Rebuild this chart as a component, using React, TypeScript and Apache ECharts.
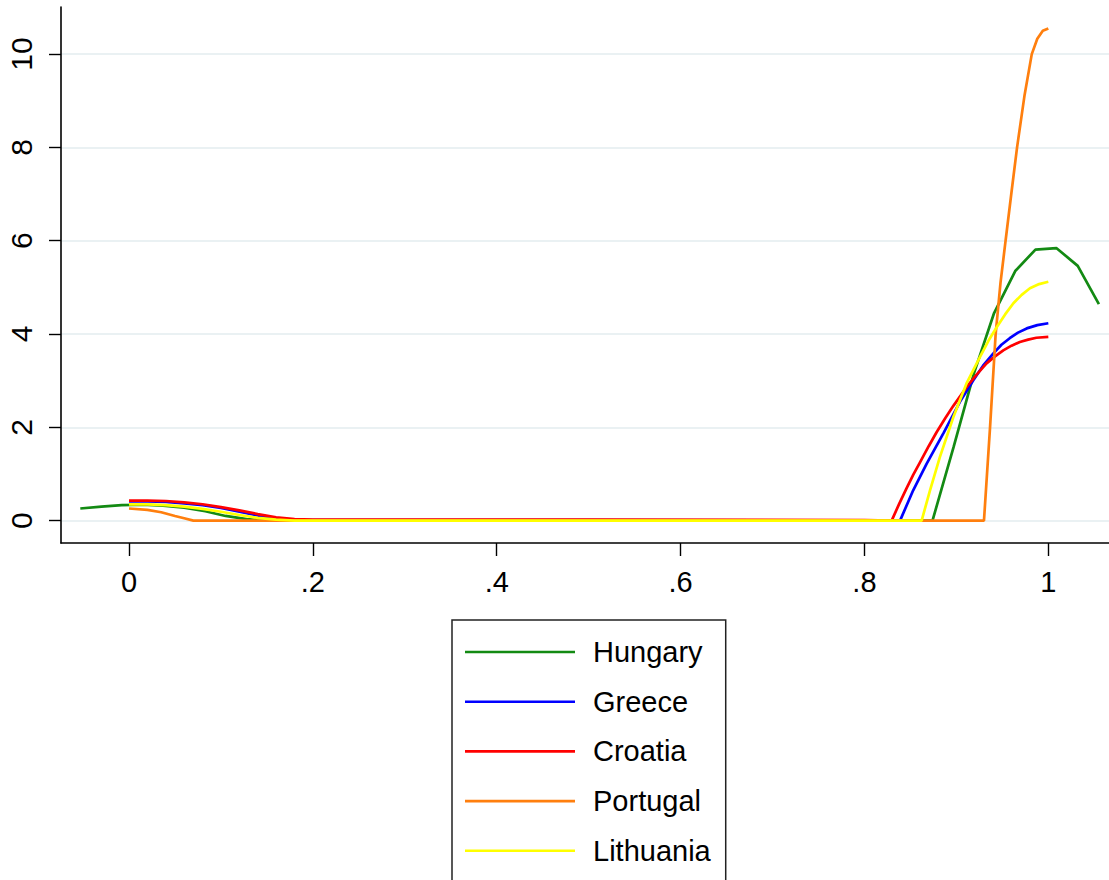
import React, { useEffect, useRef } from "react";
import * as echarts from "echarts";

const seriesNames = ["Hungary", "Greece", "Croatia", "Portugal", "Lithuania"];
const seriesColors = ["#138a13", "#0000ff", "#ff0000", "#ff7f0e", "#ffff00"];

const hungaryX = [-0.053, -0.030, -0.008, 0.015, 0.037, 0.060, 0.083, 0.105, 0.128, 0.150, 0.173, 0.5, 0.851, 0.874, 0.897, 0.919, 0.941, 0.964, 0.986, 1.009, 1.032, 1.055];
const hungaryY = [0.26, 0.30, 0.33, 0.34, 0.32, 0.28, 0.20, 0.10, 0.03, 0.0, 0.0, 0.0, 0.0, 0.0, 1.58, 3.15, 4.45, 5.35, 5.81, 5.84, 5.46, 4.64];

const greeceX = [0, 0.02, 0.04, 0.06, 0.08, 0.10, 0.12, 0.14, 0.16, 0.18, 0.5, 0.8387, 0.853, 0.8677, 0.8858, 0.904, 0.9184, 0.929, 0.94, 0.949, 0.958, 0.967, 0.9765, 0.988, 1.0];
const greeceY = [0.41, 0.41, 0.40, 0.37, 0.33, 0.27, 0.19, 0.11, 0.04, 0.01, 0.01, 0.0, 0.65, 1.22, 1.87, 2.55, 3.01, 3.32, 3.58, 3.77, 3.91, 4.03, 4.12, 4.19, 4.23];

const croatiaX = [0, 0.02, 0.04, 0.06, 0.08, 0.10, 0.12, 0.14, 0.16, 0.18, 0.2, 0.5, 0.8, 0.8296, 0.838, 0.846, 0.853, 0.8604, 0.87, 0.8786, 0.888, 0.8967, 0.911, 0.922, 0.9328, 0.942, 0.951, 0.96, 0.969, 0.978, 0.987, 1.0];
const croatiaY = [0.43, 0.43, 0.42, 0.39, 0.35, 0.29, 0.22, 0.14, 0.07, 0.03, 0.02, 0.02, 0.01, 0.0, 0.37, 0.70, 0.98, 1.25, 1.6, 1.9, 2.2, 2.46, 2.86, 3.13, 3.37, 3.52, 3.65, 3.75, 3.83, 3.88, 3.92, 3.94];

const portugalX = [0, 0.02, 0.035, 0.05, 0.06, 0.07, 0.5, 0.930, 0.9366, 0.9427, 0.948, 0.9535, 0.960, 0.966, 0.974, 0.982, 0.988, 0.994, 1.0];
const portugalY = [0.26, 0.23, 0.18, 0.10, 0.05, 0.0, 0.0, 0.0, 2.0, 4.0, 5.1, 6.0, 7.05, 8.0, 9.1, 10.0, 10.33, 10.5, 10.55];

const lithuaniaX = [0, 0.02, 0.04, 0.06, 0.08, 0.10, 0.12, 0.14, 0.16, 0.18, 0.5, 0.8622, 0.8713, 0.882, 0.8967, 0.911, 0.9257, 0.935, 0.944, 0.953, 0.962, 0.971, 0.980, 0.990, 1.0];
const lithuaniaY = [0.35, 0.35, 0.33, 0.30, 0.25, 0.19, 0.12, 0.06, 0.02, 0.0, 0.0, 0.0, 0.65, 1.36, 2.22, 2.94, 3.51, 3.86, 4.15, 4.42, 4.66, 4.84, 4.98, 5.07, 5.12];

const seriesX = [hungaryX, greeceX, croatiaX, portugalX, lithuaniaX];
const seriesY = [hungaryY, greeceY, croatiaY, portugalY, lithuaniaY];

const xTickValues = [0, 0.2, 0.4, 0.6, 0.8, 1];
const xTickLabels = ["0", ".2", ".4", ".6", ".8", "1"];
const yTickValues = [0, 2, 4, 6, 8, 10];
const yTickLabels = ["0", "2", "4", "6", "8", "10"];

const FONT = "'Liberation Sans', Arial, Helvetica, sans-serif";

export default function App() {
  const ref = useRef<HTMLDivElement>(null);
  useEffect(() => {
    document.body.style.margin = "0";
    if (!ref.current) return;
    const chart = echarts.init(ref.current, null, { renderer: "svg" });
    const series = seriesNames.map((name, i) => ({
      name,
      type: "line",
      symbol: "none",
      showSymbol: false,
      data: seriesX[i].map((x, j) => [x, seriesY[i][j]]),
      lineStyle: { color: seriesColors[i], width: 2.7 },
      itemStyle: { color: seriesColors[i] },
    }));
    chart.setOption({
      animation: false,
      backgroundColor: "#ffffff",
      grid: { left: 61, right: 0, top: 7, bottom: 337, containLabel: false },
      xAxis: {
        type: "value",
        min: -0.074,
        max: 1.066,
        axisLine: { show: true, onZero: false, lineStyle: { color: "#000", width: 1.6 } },
        axisTick: { show: true, length: 13, lineStyle: { color: "#000", width: 1.4 }, customValues: xTickValues },
        axisLabel: {
          customValues: xTickValues,
          fontSize: 29,
          fontFamily: FONT,
          color: "#000",
          margin: 24,
          formatter: (v: number) => {
            const idx = xTickValues.findIndex((t) => Math.abs(t - v) < 1e-9);
            return idx >= 0 ? xTickLabels[idx] : "";
          },
        },
        splitLine: { show: false },
      },
      yAxis: {
        type: "value",
        min: -0.48,
        max: 11.01,
        axisLine: { show: true, onZero: false, lineStyle: { color: "#000", width: 1.6 } },
        axisTick: { show: true, length: 12, lineStyle: { color: "#000", width: 1.4 }, customValues: yTickValues },
        axisLabel: {
          customValues: yTickValues,
          rotate: 90,
          fontSize: 30,
          fontFamily: FONT,
          color: "#000",
          margin: 25,
          formatter: (v: number) => {
            const idx = yTickValues.findIndex((t) => Math.abs(t - v) < 1e-9);
            return idx >= 0 ? yTickLabels[idx] : "";
          },
        },
        splitLine: { show: true, lineStyle: { color: "#eaf1f3", width: 2 } },
      },
      legend: {
        orient: "vertical",
        left: 452,
        top: 620,
        height: 320,
        padding: [17, 15, 17, 13],
        icon: "rect",
        itemWidth: 110,
        itemHeight: 2.6,
        itemGap: 19.7,
        borderColor: "#222",
        borderWidth: 1.5,
        backgroundColor: "#fff",
        textStyle: { fontSize: 29, fontFamily: FONT, color: "#000", padding: [0, 0, 0, 13], lineHeight: 30 },
        data: seriesNames,
      },
      series,
    });
    return () => chart.dispose();
  }, []);
  return <div ref={ref} style={{ width: 1109, height: 880 }} />;
}
